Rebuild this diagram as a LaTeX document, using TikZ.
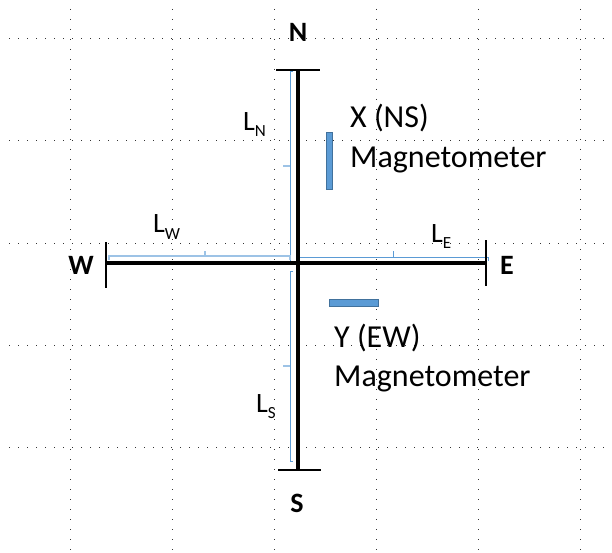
\documentclass[tikz,border=0pt]{standalone}
\usepackage{fontspec}
\setmainfont{Carlito}
\definecolor{dimblue}{HTML}{5B9BD5}
\definecolor{dimlight}{HTML}{9DC3E6}
\definecolor{magfill}{HTML}{5B9BD5}
\definecolor{magedge}{HTML}{41719C}
\newcommand{\Lsub}[1]{{\fontsize{28}{28}\selectfont L}\raisebox{-6pt}{\fontsize{17}{17}\selectfont #1}}
\begin{document}
\begin{tikzpicture}[x=1pt,y=-1pt,
  gridline/.style={line width=1pt, black!80},
  axis/.style={line width=4pt, black},
  endbar/.style={line width=2.5pt, black},
  dim/.style={line width=0.9pt, draw=dimblue},
  dimlt/.style={line width=1.4pt, draw=dimlight},
  mag/.style={draw=magedge, fill=magfill, line width=1pt},
  lbl/.style={inner sep=0, anchor=base west, font=\fontsize{32}{38}\selectfont},
  dirl/.style={inner sep=0, anchor=base, font=\bfseries\fontsize{28}{30}\selectfont},
  dl/.style={inner sep=0, anchor=base west}]
\useasboundingbox (0,0) rectangle (612,553);
\fill[white] (0,0) rectangle (612,553);
% dotted grid
\foreach \y in {39,141,243,345,447} \draw[gridline, dash pattern=on 1pt off 8pt] (9,\y) -- (612,\y);
\foreach \x in {70,172,274,376,478,580} \draw[gridline, dash pattern=on 1pt off 9pt] (\x,9) -- (\x,553);
% coordinates
\coordinate (nTop) at (298,70);
\coordinate (sBot) at (298,470);
\coordinate (wEnd) at (106,263);
\coordinate (eEnd) at (486,263);
\coordinate (nbL) at (276,70);  \coordinate (nbR) at (320,70);
\coordinate (sbL) at (278,470); \coordinate (sbR) at (321,470);
\coordinate (wbT) at (106,242); \coordinate (wbB) at (106,288);
\coordinate (ebT) at (486,240); \coordinate (ebB) at (486,286);
% blue dimension brackets
\coordinate (lnT) at (290,71); \coordinate (lnB) at (290,261);
\coordinate (lsT) at (290,271); \coordinate (lsB) at (290,461);
\coordinate (lwL) at (109,256); \coordinate (lwR) at (290,256);
\coordinate (leL) at (298,257); \coordinate (leR) at (488,257);
\draw[dim] ([xshift=3pt]lnT) -- (lnT) -- (lnB) -- ([xshift=3pt]lnB);
\draw[dim] ([xshift=3pt]lsT) -- (lsT) -- (lsB) -- ([xshift=3pt]lsB);
\draw[dimlt] ([yshift=-4pt]lwL) -- (lwL) -- (lwR) -- ([yshift=-4pt]lwR);
\draw[dim] ([yshift=-4pt]leL) -- (leL) -- (leR) -- ([yshift=-4pt]leR);
\coordinate (tkN) at (290,166); \coordinate (tkS) at (290,366);
\coordinate (tkW) at (205,256); \coordinate (tkE) at (393,257);
\draw[dimlt] (tkN) -- ++(-7,0);
\draw[dimlt] (tkS) -- ++(-7,0);
\draw[dimlt] (tkW) -- ++(0,-5);
\draw[dim] (tkE) -- ++(0,-6);
% axes
\draw[axis] (nTop) -- (sBot);
\draw[axis] (wEnd) -- (eEnd);
\draw[endbar] (nbL) -- (nbR);
\draw[endbar] (sbL) -- (sbR);
\draw[endbar] (wbT) -- (wbB);
\draw[endbar] (ebT) -- (ebB);
% magnetometers
\node[mag, inner sep=0, minimum width=6pt, minimum height=57pt] (xmag) at (329,161.5) {};
\node[mag, inner sep=0, minimum width=49pt, minimum height=7pt] (ymag) at (353.5,302.5) {};
% labels
\node[lbl] (xl1) at (350,128) {X (NS)};
\node[lbl] (xl2) at (350,168) {Magnetometer};
\node[lbl] (yl1) at (334,347) {Y (EW)};
\node[lbl] (yl2) at (334,386) {Magnetometer};
\node[dirl] (N) at (298,42) {N};
\node[dirl] (S) at (297,512) {S};
\node[dirl] (W) at (81,274) {W};
\node[dirl] (E) at (507,274) {E};
\node[dl] (LN) at (243,131) {\Lsub{N}};
\node[dl] (LS) at (256,412) {\Lsub{S}};
\node[dl] (LW) at (153,233) {\Lsub{W}};
\node[dl] (LE) at (431,242) {\Lsub{E}};
\end{tikzpicture}
\end{document}
